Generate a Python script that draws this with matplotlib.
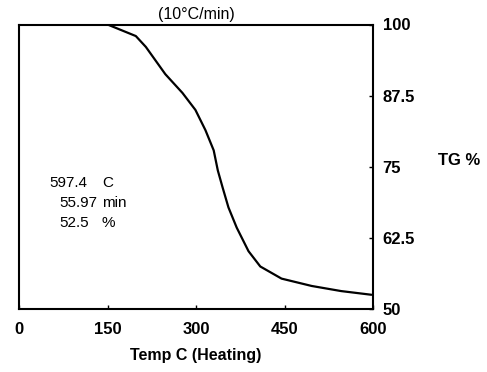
import matplotlib
matplotlib.use("Agg")
import matplotlib.pyplot as plt

# Data
temp_c = [150, 198, 215, 248, 277, 299, 316, 330, 337, 345, 355, 369, 389, 409, 445, 496, 546, 597.4]
tg_pct = [100, 97.97, 96.06, 91.27, 87.98, 84.99, 81.43, 77.88, 74.34, 71.39, 67.85, 64.3, 60.16, 57.47, 55.34, 54.05, 53.15, 52.5]

x_ticks = [0, 150, 300, 450, 600]
y_ticks = [50, 62.5, 75, 87.5, 100]
y_tick_labels = ["50", "62.5", "75", "87.5", "100"]

W, H = 487, 372
plt.rcParams['font.family'] = ['Liberation Sans', 'DejaVu Sans']
fig = plt.figure(figsize=(W / 100, H / 100), dpi=100)
left, right, top, bottom = 19, 373, 24.5, 309
ax = fig.add_axes([left / W, 1 - bottom / H, (right - left) / W, (bottom - top) / H])

ax.plot(temp_c, tg_pct, color='black', lw=1.6, solid_capstyle='round', solid_joinstyle='round')
ax.set_xlim(0, 600)
ax.set_ylim(50, 100)

for s in ax.spines.values():
    s.set_linewidth(1.5)

ax.set_xticks(x_ticks)
ax.set_xticklabels([str(t) for t in x_ticks], fontsize=12, fontweight='bold')
ax.yaxis.tick_right()
ax.set_yticks(y_ticks)
ax.set_yticklabels(y_tick_labels, fontsize=12, fontweight='bold')
ax.tick_params(axis='x', direction='in', length=3, width=1, pad=9)
ax.tick_params(axis='y', direction='in', length=3, width=1, pad=7)

ax.set_title("(10°C/min)", fontsize=11.5, pad=4)
ax.set_xlabel("Temp C (Heating)", fontsize=11.5, fontweight='bold', labelpad=8)

fig.text(459 / W, 1 - 160 / H, "TG %", fontsize=12, fontweight='bold', ha='center', va='center')

# annotation block
ann = [("597.4", 49, 183, "C", 102), ("55.97", 59, 203, "min", 102), ("52.5", 59, 223, "%", 101)]
for num, xn, yy, unit, xu in ann:
    fig.text(xn / W, 1 - yy / H, num, fontsize=11, ha='left', va='center')
    fig.text(xu / W, 1 - yy / H, unit, fontsize=11, ha='left', va='center')

fig.savefig("out.png", dpi=100)
